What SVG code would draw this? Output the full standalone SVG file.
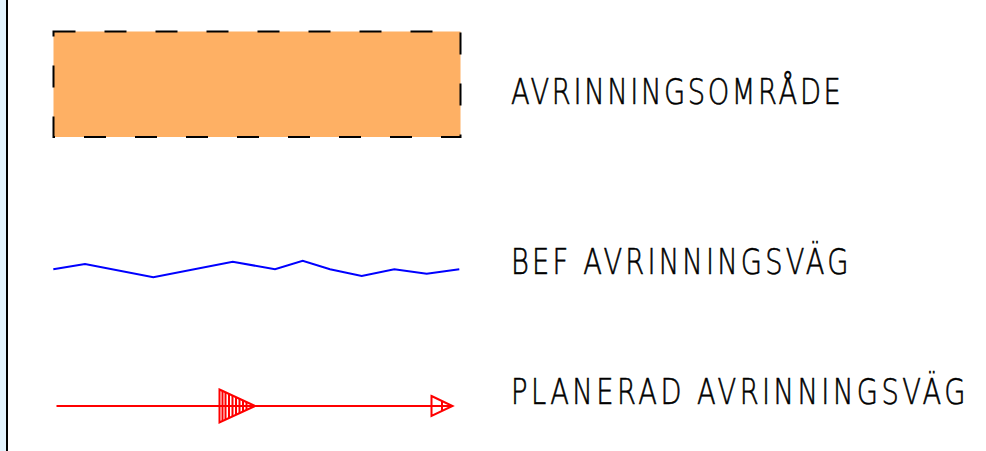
<svg xmlns="http://www.w3.org/2000/svg" width="986" height="451" viewBox="0 0 986 451">
<style>
.lbl{font-family:"DejaVu Sans","Liberation Sans",sans-serif;font-weight:200;font-size:36px;fill:#000;stroke:#000;stroke-width:0.6}
.red{stroke:#FF0000;stroke-width:2;fill:none}
</style>
<rect x="0" y="0" width="986" height="451" fill="#ffffff"/>
<rect x="0" y="0" width="6" height="451" fill="#E3F4FE"/>
<line x1="7" y1="0" x2="7" y2="451" stroke="#000" stroke-width="2"/>
<g id="area">
<path d="M53.5 31.5 H460.5 V137 H53.5 Z" fill="#FEB064" stroke="#000" stroke-width="2" stroke-dasharray="22 29"/>
</g>
<g id="bef">
<polyline points="53.3,269.3 85,264 153.3,277.3 232.7,261.7 275,269.3 302.7,260.7 330,269.3 361.7,276 394.3,269.3 426.7,273.7 459.3,269.3" fill="none" stroke="#0000FF" stroke-width="2"/>
</g>
<g id="planerad">
<line x1="56.5" y1="406" x2="452" y2="406" class="red"/>
<polygon points="219.5,389.5 255,406 219.5,422.5" class="red"/>
<path d="M222.5 391 V421 M225.5 392.4 V419.6 M229 394 V418 M232.5 395.6 V416.4 M236 397.2 V414.8 M239.5 398.8 V413.2 M243 400.5 V411.5 M246.5 402 V410" class="red" stroke-width="1.6"/>
<polygon points="431.5,396 452.5,406 431.5,416" class="red"/>
<line x1="442" y1="401" x2="442" y2="411" class="red" stroke-width="1.5"/>
</g>
<g id="labels">
<text class="lbl" transform="translate(511,104.3) scale(0.76,1)" x="0" y="0" textLength="434" lengthAdjust="spacing">AVRINNINGSOMRÅDE</text>
<text class="lbl" transform="translate(511,274) scale(0.76,1)" x="0" y="0" textLength="444" lengthAdjust="spacing">BEF AVRINNINGSVÄG</text>
<text class="lbl" transform="translate(511,404.3) scale(0.76,1)" x="0" y="0" textLength="598" lengthAdjust="spacing">PLANERAD AVRINNINGSVÄG</text>
</g>
</svg>
